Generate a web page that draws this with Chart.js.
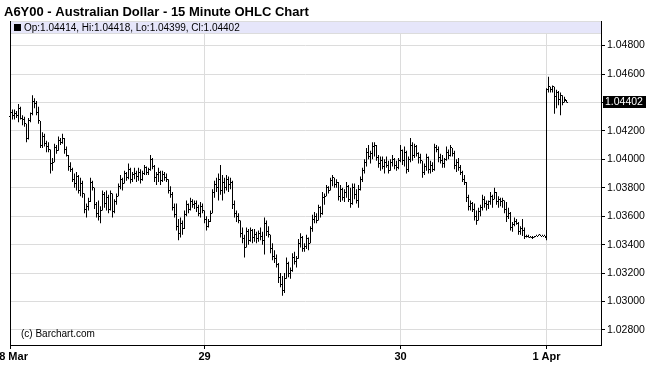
<!DOCTYPE html>
<html lang="en">
<head>
<meta charset="UTF-8" />
<title>A6Y00 - Australian Dollar - 15 Minute OHLC Chart</title>
<script src="https://cdn.jsdelivr.net/npm/chart.js"></script>
<style>
  html, body { margin: 0; padding: 0; background: #fff; }
  #chart { display: block; }
</style>
</head>
<body>
<canvas id="chart" width="650" height="386"></canvas>
<script>
const titleText = "A6Y00 - Australian Dollar - 15 Minute OHLC Chart";
const creditText = "(c) Barchart.com";

// x positions are bar numbers (15 minute bars), days start at these bars
const dayTicks = [0, 97, 195, 268];
const dayLabels = ["28 Mar", "29", "30", "1 Apr"];
const priceTicks = [1.028, 1.030, 1.032, 1.034, 1.036, 1.038, 1.040, 1.042, 1.044, 1.046, 1.048];

const opens = [
  1.0430,1.0433,1.0431,1.0432,1.0431,1.0436,1.0429,1.0428,1.0425,1.0415,
  1.0427,1.0432,1.0441,1.0439,1.0433,1.0427,1.0410,1.0416,1.0411,1.0409,
  1.0407,1.0397,1.0398,1.0408,1.0406,1.0413,1.0412,1.0415,1.0407,1.0403,
  1.0395,1.0393,1.0386,1.0383,1.0388,1.0378,1.0383,1.0376,1.0365,1.0367,
  1.0370,1.0384,1.0380,1.0368,1.0362,1.0360,1.0364,1.0375,1.0369,1.0373,
  1.0365,1.0376,1.0363,1.0370,1.0374,1.0381,1.0386,1.0383,1.0390,1.0387,
  1.0393,1.0386,1.0389,1.0390,1.0388,1.0391,1.0386,1.0390,1.0394,1.0391,
  1.0393,1.0400,1.0395,1.0387,1.0389,1.0391,1.0385,1.0389,1.0387,1.0386,
  1.0378,1.0375,1.0366,1.0361,1.0353,1.0348,1.0355,1.0351,1.0361,1.0368,
  1.0365,1.0370,1.0368,1.0369,1.0366,1.0362,1.0367,1.0364,1.0358,1.0353,
  1.0356,1.0362,1.0377,1.0382,1.0380,1.0386,1.0378,1.0384,1.0380,1.0386,
  1.0382,1.0384,1.0368,1.0362,1.0360,1.0357,1.0348,1.0344,1.0338,1.0349,
  1.0343,1.0350,1.0345,1.0347,1.0344,1.0348,1.0346,1.0343,1.0355,1.0349,
  1.0347,1.0337,1.0332,1.0330,1.0326,1.0317,1.0312,1.0308,1.0316,1.0327,
  1.0320,1.0322,1.0331,1.0328,1.0330,1.0341,1.0345,1.0337,1.0339,1.0344,
  1.0341,1.0351,1.0358,1.0360,1.0357,1.0366,1.0362,1.0373,1.0374,1.0380,
  1.0378,1.0385,1.0387,1.0382,1.0384,1.0374,1.0379,1.0373,1.0377,1.0381,
  1.0372,1.0369,1.0380,1.0375,1.0371,1.0379,1.0386,1.0392,1.0398,1.0405,
  1.0402,1.0404,1.0409,1.0410,1.0401,1.0397,1.0399,1.0395,1.0398,1.0396,
  1.0392,1.0398,1.0400,1.0396,1.0394,1.0399,1.0406,1.0399,1.0405,1.0393,
  1.0400,1.0410,1.0403,1.0409,1.0404,1.0401,1.0399,1.0391,1.0395,1.0401,
  1.0393,1.0396,1.0393,1.0408,1.0407,1.0401,1.0399,1.0397,1.0400,1.0405,
  1.0403,1.0408,1.0404,1.0396,1.0398,1.0394,1.0391,1.0386,1.0384,1.0373,
  1.0367,1.0369,1.0365,1.0360,1.0357,1.0363,1.0366,1.0372,1.0369,1.0368,
  1.0370,1.0374,1.0372,1.0377,1.0370,1.0372,1.0370,1.0371,1.0365,1.0360,
  1.0362,1.0352,1.0354,1.0356,1.0355,1.0349,1.0351,1.0350,1.0346,1.0346,
  1.0345,1.0345,1.0345,1.0346,1.0346,1.0347,1.0346,1.0346,1.0345,1.0449,
  1.0451,1.0449,1.0451,1.0444,1.0447,1.0442,1.0445,1.0440,1.04414
];
const highs = [
  1.0436,1.0435,1.0435,1.0434,1.0439,1.0437,1.0431,1.0430,1.0425,1.0429,
  1.0433,1.0445,1.0443,1.0441,1.0437,1.0427,1.0419,1.0418,1.0413,1.0412,
  1.0407,1.0401,1.0411,1.0410,1.0416,1.0415,1.0418,1.0415,1.0409,1.0403,
  1.0398,1.0394,1.0390,1.0391,1.0389,1.0387,1.0385,1.0376,1.0369,1.0373,
  1.0387,1.0385,1.0380,1.0370,1.0371,1.0367,1.0378,1.0377,1.0378,1.0375,
  1.0378,1.0376,1.0372,1.0376,1.0383,1.0389,1.0387,1.0392,1.0391,1.0397,
  1.0394,1.0391,1.0394,1.0392,1.0394,1.0393,1.0392,1.0396,1.0395,1.0394,
  1.0403,1.0401,1.0396,1.0391,1.0394,1.0392,1.0392,1.0391,1.0390,1.0386,
  1.0381,1.0377,1.0369,1.0369,1.0358,1.0359,1.0357,1.0364,1.0371,1.0369,
  1.0373,1.0372,1.0371,1.0371,1.0368,1.0370,1.0369,1.0364,1.0360,1.0358,
  1.0364,1.0379,1.0385,1.0387,1.0390,1.0396,1.0389,1.0387,1.0389,1.0388,
  1.0387,1.0385,1.0371,1.0364,1.0362,1.0357,1.0352,1.0347,1.0352,1.0351,
  1.0352,1.0351,1.0351,1.0349,1.0350,1.0352,1.0349,1.0359,1.0357,1.0353,
  1.0347,1.0341,1.0336,1.0333,1.0327,1.0320,1.0318,1.0320,1.0331,1.0328,
  1.0324,1.0334,1.0335,1.0332,1.0344,1.0348,1.0346,1.0341,1.0347,1.0345,
  1.0353,1.0361,1.0363,1.0362,1.0368,1.0367,1.0377,1.0376,1.0382,1.0381,
  1.0387,1.0389,1.0387,1.0386,1.0384,1.0382,1.0380,1.0379,1.0384,1.0382,
  1.0380,1.0383,1.0383,1.0379,1.0382,1.0388,1.0394,1.0400,1.0408,1.0410,
  1.0406,1.0412,1.0412,1.0410,1.0403,1.0402,1.0402,1.0400,1.0402,1.0399,
  1.0400,1.0403,1.0401,1.0399,1.0401,1.0410,1.0407,1.0409,1.0406,1.0402,
  1.0415,1.0412,1.0411,1.0410,1.0405,1.0404,1.0399,1.0397,1.0404,1.0402,
  1.0399,1.0398,1.0411,1.0410,1.0409,1.0404,1.0403,1.0401,1.0409,1.0407,
  1.0410,1.0408,1.0406,1.0400,1.0401,1.0396,1.0392,1.0389,1.0384,1.0375,
  1.0371,1.0370,1.0369,1.0364,1.0366,1.0368,1.0375,1.0374,1.0371,1.0371,
  1.0377,1.0375,1.0380,1.0377,1.0374,1.0373,1.0373,1.0371,1.0370,1.0366,
  1.0363,1.0356,1.0359,1.0358,1.0356,1.0353,1.0358,1.0352,1.0347,1.0347,
  1.0346,1.0346,1.0346,1.0347,1.0347,1.0347,1.0347,1.0347,1.0450,1.0458,
  1.0451,1.0452,1.0451,1.0449,1.0448,1.0447,1.0445,1.0444,1.04418
];
const lows = [
  1.0424,1.0428,1.0428,1.0429,1.0426,1.0428,1.0424,1.0423,1.0412,1.0414,
  1.0426,1.0431,1.0436,1.0431,1.0425,1.0408,1.0408,1.0409,1.0405,1.0405,
  1.0390,1.0392,1.0398,1.0404,1.0406,1.0410,1.0411,1.0404,1.0402,1.0392,
  1.0391,1.0384,1.0380,1.0378,1.0376,1.0374,1.0373,1.0362,1.0359,1.0364,
  1.0370,1.0378,1.0365,1.0359,1.0357,1.0355,1.0364,1.0366,1.0364,1.0362,
  1.0364,1.0359,1.0362,1.0368,1.0374,1.0379,1.0378,1.0383,1.0385,1.0386,
  1.0383,1.0384,1.0386,1.0384,1.0385,1.0383,1.0385,1.0389,1.0389,1.0389,
  1.0392,1.0393,1.0384,1.0382,1.0384,1.0382,1.0384,1.0385,1.0384,1.0376,
  1.0373,1.0364,1.0359,1.0350,1.0343,1.0345,1.0347,1.0351,1.0360,1.0362,
  1.0364,1.0366,1.0365,1.0363,1.0360,1.0359,1.0362,1.0355,1.0350,1.0352,
  1.0356,1.0362,1.0373,1.0377,1.0371,1.0375,1.0371,1.0376,1.0378,1.0377,
  1.0379,1.0365,1.0359,1.0356,1.0355,1.0345,1.0341,1.0331,1.0338,1.0340,
  1.0342,1.0341,1.0342,1.0341,1.0342,1.0343,1.0340,1.0333,1.0346,1.0345,
  1.0334,1.0329,1.0327,1.0324,1.0313,1.0310,1.0304,1.0306,1.0316,1.0317,
  1.0316,1.0321,1.0326,1.0324,1.0330,1.0338,1.0335,1.0335,1.0337,1.0336,
  1.0341,1.0349,1.0355,1.0355,1.0357,1.0359,1.0361,1.0368,1.0374,1.0376,
  1.0378,1.0381,1.0380,1.0380,1.0371,1.0370,1.0371,1.0370,1.0373,1.0370,
  1.0366,1.0368,1.0372,1.0369,1.0366,1.0378,1.0384,1.0390,1.0395,1.0400,
  1.0397,1.0400,1.0402,1.0399,1.0394,1.0392,1.0393,1.0390,1.0394,1.0390,
  1.0392,1.0395,1.0393,1.0392,1.0393,1.0398,1.0396,1.0395,1.0390,1.0391,
  1.0398,1.0399,1.0401,1.0402,1.0397,1.0397,1.0387,1.0389,1.0392,1.0390,
  1.0390,1.0391,1.0392,1.0405,1.0398,1.0397,1.0394,1.0394,1.0399,1.0400,
  1.0402,1.0402,1.0393,1.0391,1.0392,1.0389,1.0384,1.0382,1.0370,1.0364,
  1.0364,1.0363,1.0357,1.0354,1.0357,1.0360,1.0364,1.0366,1.0364,1.0365,
  1.0368,1.0366,1.0372,1.0368,1.0366,1.0367,1.0366,1.0362,1.0356,1.0358,
  1.0350,1.0349,1.0353,1.0354,1.0347,1.0347,1.0346,1.0344,1.0345,1.0345,
  1.0345,1.0344,1.0345,1.0346,1.0346,1.0346,1.0346,1.0346,1.0343,1.0447,
  1.0447,1.0447,1.0432,1.0436,1.0438,1.0431,1.0438,1.0440,1.04399
];
const closes = [
  1.0433,1.0431,1.0432,1.0431,1.0436,1.0429,1.0428,1.0425,1.0415,1.0427,
  1.0432,1.0441,1.0439,1.0433,1.0427,1.0410,1.0416,1.0411,1.0409,1.0407,
  1.0397,1.0398,1.0408,1.0406,1.0413,1.0412,1.0415,1.0407,1.0403,1.0395,
  1.0393,1.0386,1.0383,1.0388,1.0378,1.0383,1.0376,1.0365,1.0367,1.0370,
  1.0384,1.0380,1.0368,1.0362,1.0360,1.0364,1.0375,1.0369,1.0373,1.0365,
  1.0376,1.0363,1.0370,1.0374,1.0381,1.0386,1.0383,1.0390,1.0387,1.0393,
  1.0386,1.0389,1.0390,1.0388,1.0391,1.0386,1.0390,1.0394,1.0391,1.0393,
  1.0400,1.0395,1.0387,1.0389,1.0391,1.0385,1.0389,1.0387,1.0386,1.0378,
  1.0375,1.0366,1.0361,1.0353,1.0348,1.0355,1.0351,1.0361,1.0368,1.0365,
  1.0370,1.0368,1.0369,1.0366,1.0362,1.0367,1.0364,1.0358,1.0353,1.0356,
  1.0362,1.0377,1.0382,1.0380,1.0386,1.0378,1.0384,1.0380,1.0386,1.0382,
  1.0384,1.0368,1.0362,1.0360,1.0357,1.0348,1.0344,1.0338,1.0349,1.0343,
  1.0350,1.0345,1.0347,1.0344,1.0348,1.0346,1.0343,1.0355,1.0349,1.0347,
  1.0337,1.0332,1.0330,1.0326,1.0317,1.0312,1.0308,1.0316,1.0327,1.0320,
  1.0322,1.0331,1.0328,1.0330,1.0341,1.0345,1.0337,1.0339,1.0344,1.0341,
  1.0351,1.0358,1.0360,1.0357,1.0366,1.0362,1.0373,1.0374,1.0380,1.0378,
  1.0385,1.0387,1.0382,1.0384,1.0374,1.0379,1.0373,1.0377,1.0381,1.0372,
  1.0369,1.0380,1.0375,1.0371,1.0379,1.0386,1.0392,1.0398,1.0405,1.0402,
  1.0404,1.0409,1.0410,1.0401,1.0397,1.0399,1.0395,1.0398,1.0396,1.0392,
  1.0398,1.0400,1.0396,1.0394,1.0399,1.0406,1.0399,1.0405,1.0393,1.0400,
  1.0410,1.0403,1.0409,1.0404,1.0401,1.0399,1.0391,1.0395,1.0401,1.0393,
  1.0396,1.0393,1.0408,1.0407,1.0401,1.0399,1.0397,1.0400,1.0405,1.0403,
  1.0408,1.0404,1.0396,1.0398,1.0394,1.0391,1.0386,1.0384,1.0373,1.0367,
  1.0369,1.0365,1.0360,1.0357,1.0363,1.0366,1.0372,1.0369,1.0368,1.0370,
  1.0374,1.0372,1.0377,1.0370,1.0372,1.0370,1.0371,1.0365,1.0360,1.0362,
  1.0352,1.0354,1.0356,1.0355,1.0349,1.0351,1.0350,1.0346,1.0346,1.0345,
  1.0345,1.0345,1.0346,1.0346,1.0347,1.0346,1.0346,1.0346,1.0449,1.0451,
  1.0449,1.0451,1.0444,1.0447,1.0442,1.0445,1.0440,1.0442,1.04402
];

const FONT = "'Liberation Sans', Arial, Helvetica, sans-serif";
const GRID = "#dcdcdc";

const ohlcPlugin = {
  id: "ohlc",
  beforeDraw(chart) {
    const ctx = chart.ctx;
    ctx.save();
    ctx.fillStyle = "#fff";
    ctx.fillRect(0, 0, chart.width, chart.height);
    ctx.restore();
  },
  beforeDatasetsDraw(chart) {
    const ctx = chart.ctx;
    const area = chart.chartArea;
    ctx.save();
    // info strip along the top of the plot
    ctx.fillStyle = "#e6e6fa";
    ctx.fillRect(area.left, area.top, area.right - area.left, 12);
    ctx.fillStyle = GRID;
    ctx.fillRect(area.left, area.top + 12, area.right - area.left, 1);
    ctx.fillRect(area.left, area.top, area.right - area.left, 1);
    // left frame line
    ctx.fillStyle = "#000";
    ctx.fillRect(area.left, area.top, 1, area.bottom - area.top);
    // credit
    ctx.font = "10px " + FONT;
    ctx.textBaseline = "alphabetic";
    ctx.fillText(creditText, 21, 337);
    ctx.restore();
  },
  afterDatasetsDraw(chart) {
    const ctx = chart.ctx;
    const xs = chart.scales.x, ys = chart.scales.y;
    ctx.save();
    ctx.fillStyle = "#000";
    for (let i = 0; i < opens.length; i++) {
      const px = Math.floor(xs.getPixelForValue(i));
      ctx.fillRect(px - 1, Math.floor(ys.getPixelForValue(opens[i])), 1, 1);
      ctx.fillRect(px + 1, Math.floor(ys.getPixelForValue(closes[i])), 1, 1);
    }
    ctx.restore();
  },
  afterDraw(chart) {
    const ctx = chart.ctx;
    const area = chart.chartArea;
    const xs = chart.scales.x, ys = chart.scales.y;
    const n = closes.length - 1;
    ctx.save();
    ctx.fillStyle = "#000";

    // title
    ctx.font = "bold 13px " + FONT;
    ctx.textAlign = "left";
    ctx.textBaseline = "alphabetic";
    ctx.fillText(titleText, 4, 16);

    // last bar values in the strip
    ctx.fillRect(area.left + 4, area.top + 3, 7, 7);
    ctx.font = "10px " + FONT;
    const info = "Op:" + opens[n].toFixed(5) + ", Hi:" + highs[n].toFixed(5) +
      ", Lo:" + lows[n].toFixed(5) + ", Cl:" + closes[n].toFixed(5);
    ctx.fillText(info, area.left + 14, area.top + 10);

    // day labels
    ctx.font = "bold 11px " + FONT;
    ctx.textAlign = "center";
    ctx.textBaseline = "top";
    dayTicks.forEach((t, i) => {
      ctx.fillText(dayLabels[i], xs.getPixelForValue(t), area.bottom + 6);
    });

    // last price marker
    const py = Math.round(ys.getPixelForValue(closes[n]));
    ctx.fillRect(area.right + 2, py - 6, 43, 12);
    ctx.fillStyle = "#fff";
    ctx.font = "10.5px " + FONT;
    ctx.textAlign = "left";
    ctx.textBaseline = "middle";
    ctx.fillText(closes[n].toFixed(5), area.right + 4, py + 0.5);
    ctx.restore();
  }
};

const bars = highs.map((h, i) => ({ x: i, y: [lows[i], h] }));

new Chart(document.getElementById("chart"), {
  type: "bar",
  data: {
    datasets: [{
      data: bars,
      backgroundColor: "#000",
      borderWidth: 0,
      barThickness: 1,
      inflateAmount: 0
    }]
  },
  options: {
    responsive: false,
    animation: false,
    devicePixelRatio: 1,
    layout: { padding: { left: 10, top: 21, right: 0, bottom: 0 } },
    plugins: {
      legend: { display: false },
      tooltip: { enabled: false },
      title: { display: false }
    },
    scales: {
      x: {
        type: "linear",
        offset: false,
        min: -0.25,
        max: 295.25,
        afterBuildTicks: (scale) => { scale.ticks = dayTicks.map(v => ({ value: v })); },
        afterFit: (scale) => { scale.height = 41; },
        ticks: { display: false },
        grid: { color: GRID, offset: false, drawTicks: true, tickLength: 4, tickColor: "#000" },
        border: { display: true, color: "#000", width: 1 }
      },
      y: {
        type: "linear",
        position: "right",
        min: 1.02694,
        max: 1.04973,
        afterBuildTicks: (scale) => { scale.ticks = priceTicks.map(v => ({ value: v })); },
        afterFit: (scale) => { scale.width = 49; },
        ticks: {
          color: "#000",
          padding: 2,
          font: { family: FONT, size: 10.5 },
          callback: (v) => Number(v).toFixed(5)
        },
        grid: { color: GRID, drawTicks: true, tickLength: 4, tickColor: "#000" },
        border: { display: true, color: "#000", width: 1 }
      }
    }
  },
  plugins: [ohlcPlugin]
});
</script>
</body>
</html>
